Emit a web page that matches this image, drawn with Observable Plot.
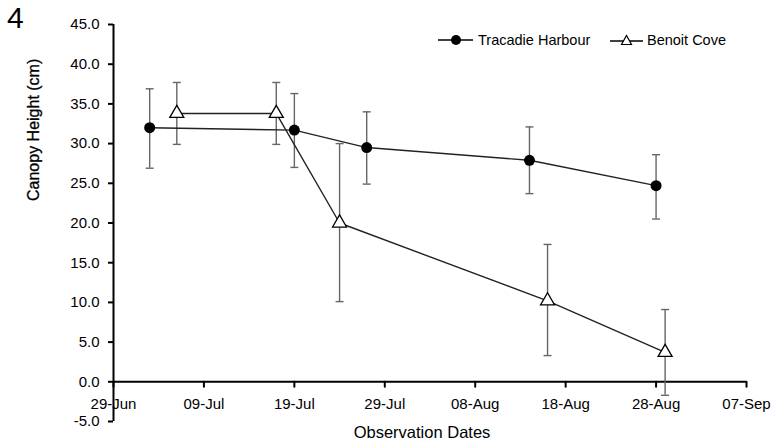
<!DOCTYPE html>
<html><head><meta charset="utf-8">
<script src="https://cdn.jsdelivr.net/npm/d3@7"></script>
<script src="https://cdn.jsdelivr.net/npm/@observablehq/plot@0.6"></script>
<style>
body{margin:0;background:#fff;}
#wrap{position:relative;width:775px;height:443px;font-family:"Liberation Sans",Arial,sans-serif;color:#000;}
#panel{position:absolute;left:7px;top:1px;font-size:30px;line-height:34px;}
.leg{position:absolute;top:32px;height:16px;display:flex;align-items:center;font-size:14.5px;white-space:nowrap;}
</style></head><body>
<div id="wrap">
  <div id="chart"></div>
  <div id="panel">4</div>
  <div class="leg" style="left:437px"><svg width="38" height="16"><line x1="1" y1="8" x2="36" y2="8" stroke="#000" stroke-width="1.5"/><circle cx="19" cy="8" r="5" fill="#000"/></svg><span style="margin-left:3px">Tracadie Harbour</span></div>
  <div class="leg" style="left:609px"><svg width="35" height="16"><line x1="1" y1="9" x2="34" y2="9" stroke="#000" stroke-width="1.5"/><path d="M17.5,3.5 L22.5,12.5 L12.5,12.5 Z" fill="#fff" stroke="#000" stroke-width="1.2"/></svg><span style="margin-left:3px">Benoit Cove</span></div>
</div>
<script>
// Data
const seriesNames = ["Tracadie Harbour", "Benoit Cove"];
const tracadieDates = ["2013-07-03", "2013-07-19", "2013-07-27", "2013-08-14", "2013-08-28"];
const tracadieMean  = [32.0, 31.7, 29.5, 27.9, 24.7];
const tracadieLow   = [26.9, 27.0, 24.9, 23.7, 20.5];
const tracadieHigh  = [36.9, 36.3, 34.0, 32.1, 28.6];

const benoitDates = ["2013-07-06", "2013-07-17", "2013-07-24", "2013-08-16", "2013-08-29"];
const benoitMean  = [33.8, 33.8, 20.0, 10.2, 3.7];
const benoitLow   = [29.9, 29.9, 10.1, 3.3, -1.7];
const benoitHigh  = [37.7, 37.7, 30.0, 17.3, 9.1];

const xTickDates  = ["2013-06-29", "2013-07-09", "2013-07-19", "2013-07-29", "2013-08-08", "2013-08-18", "2013-08-28", "2013-09-07"];
const xTickLabels = ["29-Jun", "09-Jul", "19-Jul", "29-Jul", "08-Aug", "18-Aug", "28-Aug", "07-Sep"];
const yTicks = [-5, 0, 5, 10, 15, 20, 25, 30, 35, 40, 45];

const parse = d3.utcParse("%Y-%m-%d");
const build = (dates, mean, lo, hi, name) => dates.map((d, i) => ({date: parse(d), mean: mean[i], lo: lo[i], hi: hi[i], series: name}));
const tracadie = build(tracadieDates, tracadieMean, tracadieLow, tracadieHigh, seriesNames[0]);
const benoit = build(benoitDates, benoitMean, benoitLow, benoitHigh, seriesNames[1]);
const all = tracadie.concat(benoit);
const xTicks = xTickDates.map(parse);

const capSymbol = {draw(ctx, size) { const w = Math.sqrt(size / Math.PI); ctx.moveTo(-w, 0); ctx.lineTo(w, 0); }};
const tickShape = {draw(ctx, l) { ctx.moveTo(0, 0); ctx.lineTo(0, -l); }};

const chart = Plot.plot({
  width: 775,
  height: 443,
  marginLeft: 113,
  marginRight: 29,
  marginTop: 24,
  marginBottom: 22,
  style: {fontFamily: "'Liberation Sans', Arial, sans-serif", fontSize: "15px", color: "#000", background: "#fff", overflow: "visible"},
  x: {type: "utc", domain: [xTicks[0], xTicks[xTicks.length - 1]], axis: null},
  y: {domain: [-5, 45], label: null},
  marks: [
    Plot.axisY({ticks: yTicks, tickFormat: d => d.toFixed(1), tickSize: 5, tickPadding: 9, fontSize: 15, stroke: "#000", strokeWidth: 2, label: null}),
    Plot.ruleX([xTicks[0]], {stroke: "#000", strokeWidth: 2}),
    Plot.ruleY([0], {stroke: "#000", strokeWidth: 2}),
    Plot.vector(xTicks, {x: d => d, y: 0, length: 5, rotate: 180, anchor: "start", shape: tickShape, stroke: "#000", strokeWidth: 2}),
    Plot.text(xTicks, {x: d => d, y: 0, text: (d, i) => xTickLabels[i], dy: 22, fontSize: 15, fill: "#000"}),
    Plot.text(["Canopy Height (cm)"], {frameAnchor: "left", dx: -80, dy: -22, rotate: -90, fontSize: 16, fill: "#000", stroke: "#000", strokeWidth: 0.3}),
    Plot.text(["Observation Dates"], {frameAnchor: "bottom", lineAnchor: "middle", dx: -8, dy: 11, fontSize: 16.5, fill: "#000"}),
    Plot.ruleX(all, {x: "date", y1: "lo", y2: "hi", stroke: "#666", strokeWidth: 1.4}),
    Plot.dot(all, {x: "date", y: "lo", symbol: capSymbol, r: 4, stroke: "#666", strokeWidth: 1.4}),
    Plot.dot(all, {x: "date", y: "hi", symbol: capSymbol, r: 4, stroke: "#666", strokeWidth: 1.4}),
    Plot.line(tracadie, {x: "date", y: "mean", stroke: "#222", strokeWidth: 1.4}),
    Plot.line(benoit, {x: "date", y: "mean", stroke: "#222", strokeWidth: 1.4}),
    Plot.dot(tracadie, {x: "date", y: "mean", r: 5.5, fill: "#000", stroke: "none"}),
    Plot.dot(benoit, {x: "date", y: "mean", symbol: "triangle", r: 5.2, fill: "#fff", stroke: "#000", strokeWidth: 1.3})
  ]
});
document.getElementById("chart").appendChild(chart);
</script>
</body></html>
